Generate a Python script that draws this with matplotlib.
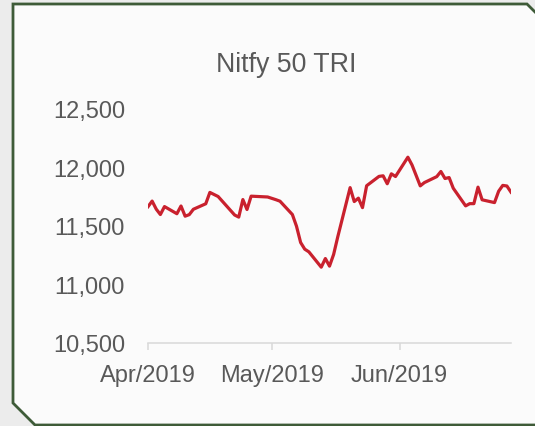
import datetime as dt
import matplotlib
matplotlib.use("Agg")
import matplotlib.pyplot as plt
import matplotlib.dates as mdates
from matplotlib.patches import Polygon
from matplotlib.ticker import FuncFormatter

plt.rcParams['font.family'] = ['Liberation Sans', 'DejaVu Sans']

title = "Nitfy 50 TRI"

apr_days = [1, 2, 3, 4, 5, 8, 9, 10, 11, 12, 15, 16, 18, 22, 23, 24, 25, 26, 30]
apr_vals = [11665, 11713, 11644, 11598, 11666, 11605, 11671, 11584, 11597, 11643,
            11690, 11787, 11752, 11594, 11576, 11726, 11641, 11755, 11748]
may_days = [2, 3, 6, 7, 8, 9, 10, 13, 14, 15, 16, 17, 20, 21, 22, 23, 24, 27, 28, 29, 30, 31]
may_vals = [11725, 11712, 11598, 11498, 11359, 11302, 11279, 11148, 11222, 11157, 11257,
            11407, 11828, 11709, 11738, 11657, 11844, 11924, 11929, 11861, 11946, 11923]
jun_days = [3, 4, 6, 7, 10, 11, 12, 13, 14, 17, 18, 19, 20, 21, 24, 25, 26, 27, 28]
jun_vals = [12088, 12022, 11843, 11871, 11922, 11966, 11906, 11914, 11823, 11672,
            11691, 11691, 11832, 11724, 11700, 11797, 11847, 11842, 11789]

y_ticks = [10500, 11000, 11500, 12000, 12500]
x_ticks = [dt.date(2019, 4, 1), dt.date(2019, 5, 1), dt.date(2019, 6, 1)]

dates = ([dt.date(2019, 4, d) for d in apr_days]
         + [dt.date(2019, 5, d) for d in may_days]
         + [dt.date(2019, 6, d) for d in jun_days])
values = apr_vals + may_vals + jun_vals

W, H = 535, 427
fig = plt.figure(figsize=(W / 100, H / 100), dpi=100)
fig.patch.set_facecolor('#ececec')

# card outline with cut corners (pixel coords -> figure fraction)
pts = [(13, 5), (527, 5), (552, 30), (552, 426), (35, 426), (13, 404)]
card = Polygon([(x / W, 1 - y / H) for x, y in pts], closed=True,
               transform=fig.transFigure, facecolor='#fbfbfb',
               edgecolor='#3e5b38', linewidth=2.0, zorder=0)
fig.add_artist(card)

ax = fig.add_axes([148 / W, 1 - 344 / H, (511 - 148) / W, (344 - 110) / H])
ax.set_facecolor('none')

ax.plot(dates, values, color='#c9212e', linewidth=2.3, solid_joinstyle='round')

ax.set_xlim(dt.date(2019, 4, 1), dt.date(2019, 6, 28))
ax.set_ylim(10500, 12500)
ax.set_yticks(y_ticks)
ax.yaxis.set_major_formatter(FuncFormatter(lambda v, p: f"{int(v):,}"))
ax.set_xticks(x_ticks)
ax.xaxis.set_major_formatter(mdates.DateFormatter('%b/%Y'))

for s in ['top', 'right', 'left']:
    ax.spines[s].set_visible(False)
ax.spines['bottom'].set_color('#d9d9d9')
ax.spines['bottom'].set_linewidth(1.1)

ax.tick_params(axis='y', length=0, pad=16.5, labelsize=17, labelcolor='#595959')
ax.tick_params(axis='x', length=5, width=1.1, color='#d9d9d9', pad=10,
               labelsize=17, labelcolor='#595959')

fig.text(286.5 / W, 1 - 71.7 / H, title, ha='center', va='baseline',
         fontsize=19.3, color='#595959')

fig.savefig('out.png', dpi=100, facecolor=fig.get_facecolor())
